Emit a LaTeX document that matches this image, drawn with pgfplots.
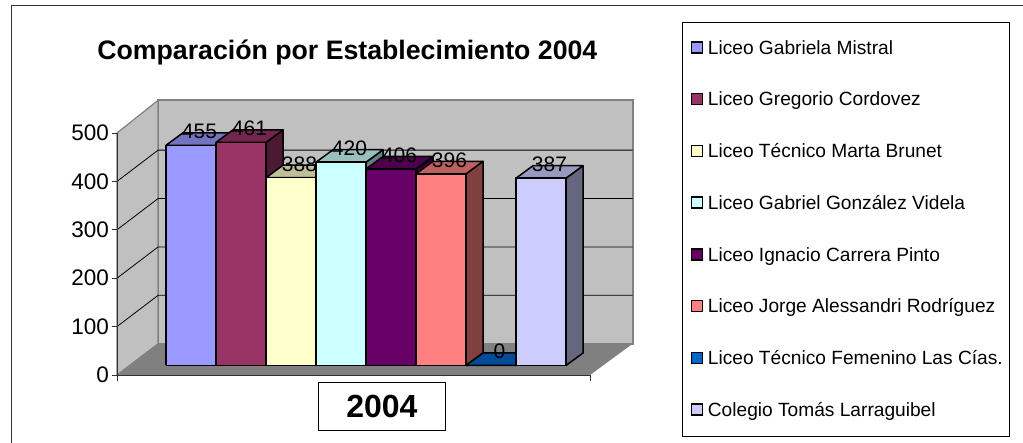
\documentclass[border=0pt]{standalone}
\usepackage{pgfplots}
\pgfplotsset{compat=1.18}
\usepackage{fontspec}
\setmainfont{Liberation Sans}
\definecolor{wallgray}{RGB}{192,192,192}
\definecolor{floorgray}{RGB}{128,128,128}
\definecolor{axisdark}{RGB}{50,50,50}
\definecolor{c1}{HTML}{9999FF}
\definecolor{c2}{HTML}{993366}
\definecolor{c3}{HTML}{FFFFCC}
\definecolor{c4}{HTML}{CCFFFF}
\definecolor{c5}{HTML}{660066}
\definecolor{c6}{HTML}{FF8080}
\definecolor{c7}{HTML}{0066CC}
\definecolor{c8}{HTML}{CCCCFF}
\pgfplotsset{/pgf/number format/assume math mode=true}
% one 3D column: left x, right x, value, colour
\newcommand{\column}[4]{
  \addplot3[draw=black, line width=1.5pt, line join=round, fill=#4!50!black] coordinates {(#2,0,0)(#2,1,0)(#2,1,#3)(#2,0,#3)(#2,0,0)};
  \addplot3[draw=black, line width=1.5pt, line join=round, fill=#4!75!black] coordinates {(#1,0,#3)(#2,0,#3)(#2,1,#3)(#1,1,#3)(#1,0,#3)};
  \addplot3[draw=black, line width=1.5pt, line join=round, fill=#4] coordinates {(#1,0,0)(#2,0,0)(#2,0,#3)(#1,0,#3)(#1,0,0)};
}
\begin{document}
\begin{tikzpicture}
\useasboundingbox (0pt,0pt) rectangle (1023pt,442pt);
\fill[white] (0pt,0pt) rectangle (1023pt,442pt);
\draw[black!80, line width=1pt] (11.5pt,-2pt) -- (11.5pt,436pt) -- (1025pt,436pt);

% walls, floor and bars, 1 x unit = one column, depth unit = column depth
\begin{axis}[
  anchor=origin, at={(166pt,76.5pt)},
  x={(50pt,0pt)}, y={(17pt,12.5pt)}, z={(0pt,0.484pt)},
  xmin=-1, xmax=9, ymin=-1, ymax=2, zmin=0, zmax=500,
  hide axis, clip=false,
]
\addplot3[draw=floorgray, line width=2pt, fill=wallgray] coordinates {(-0.75,1.74,0)(8.74,1.74,0)(8.74,1.74,503)(-0.75,1.74,503)(-0.75,1.74,0)};
\addplot3[draw=floorgray, line width=1.2pt, fill=wallgray] coordinates {(-0.722,-0.76,0)(-0.75,1.74,0)(-0.75,1.74,503)(-0.722,-0.76,500)(-0.722,-0.76,0)};
\addplot3[draw=none, fill=floorgray] coordinates {(-0.722,-0.76,0)(8.74,-0.76,0)(8.74,1.74,0)(-0.75,1.74,0)(-0.722,-0.76,0)};
% gridlines
\addplot3[black, line width=0.8pt] coordinates {(-0.722,-0.76,100)(-0.75,1.74,100)(8.74,1.74,100)};
\addplot3[black, line width=0.8pt] coordinates {(-0.722,-0.76,200)(-0.75,1.74,200)(8.74,1.74,200)};
\addplot3[black, line width=0.8pt] coordinates {(-0.722,-0.76,300)(-0.75,1.74,300)(8.74,1.74,300)};
\addplot3[black, line width=0.8pt] coordinates {(-0.722,-0.76,400)(-0.75,1.74,400)(8.74,1.74,400)};
\column{0}{1}{455}{c1}
\column{1}{2}{461}{c2}
\column{2}{3}{388}{c3}
\column{3}{4}{420}{c4}
\column{4}{5}{406}{c5}
\column{5}{6}{396}{c6}
\column{6}{7}{0}{c7}
\column{7}{8}{387}{c8}
% data labels on top of everything
\addplot3[only marks, mark size=0pt, point meta=z, nodes near coords,
  nodes near coords style={anchor=center, yshift=7.5pt, font=\fontsize{21}{21}\selectfont, black}]
  coordinates {(0.5,0.5,455)(1.5,0.5,461)(2.5,0.5,388)(3.5,0.5,420)(4.5,0.5,406)(5.5,0.5,396)(6.5,0.5,0)(7.5,0.5,387)};
\end{axis}

% front axis lines, ticks, title, axis label and legend
\begin{axis}[
  anchor=south west, at={(117pt,67pt)},
  scale only axis, width=473pt, height=242pt,
  xmin=0, xmax=1, ymin=0, ymax=500,
  axis x line=bottom, axis y line=left,
  axis line style={-, draw=axisdark, line width=1pt},
  tick style={draw=axisdark, line width=1pt},
  tick align=outside, major tick length=5.5pt,
  xtick={0,1}, xticklabels={,},
  ytick={0,100,200,300,400,500},
  yticklabel style={font=\fontsize{22.5}{22.5}\selectfont, inner sep=2.5pt, text=black},
  xlabel={2004},
  xlabel style={at={(axis description cs:0.56,-0.1295)}, anchor=center, draw=black, fill=white, line width=1.3pt,
    font=\bfseries\fontsize{32}{32}\selectfont, minimum width=127pt, minimum height=48pt},
  title={Comparación por Establecimiento 2004},
  title style={at={(axis description cs:0.487,1.31)}, anchor=center, font=\bfseries\fontsize{26.7}{26.7}\selectfont},
  clip=false,
  legend cell align=left,
  legend image code/.code={\path[draw=none, fill=none] (0pt,0pt) -- (18.5pt,0pt);\draw[#1, draw=black, line width=1.5pt] (4pt,-5pt) rectangle (15pt,6pt);},
  legend style={at={(axis description cs:1.1945,1.4587)}, anchor=north west, draw=black, line width=0.8pt, fill=white,
    font=\fontsize{19.15}{19.15}\selectfont, inner xsep=5pt, inner ysep=16pt,
    row sep=32.2pt, legend columns=1},
]
\addlegendimage{fill=c1}\addlegendentry{Liceo Gabriela Mistral}
\addlegendimage{fill=c2}\addlegendentry{Liceo Gregorio Cordovez}
\addlegendimage{fill=c3}\addlegendentry{Liceo Técnico Marta Brunet}
\addlegendimage{fill=c4}\addlegendentry{Liceo Gabriel González Videla}
\addlegendimage{fill=c5}\addlegendentry{Liceo Ignacio Carrera Pinto}
\addlegendimage{fill=c6}\addlegendentry{Liceo Jorge Alessandri Rodríguez}
\addlegendimage{fill=c7}\addlegendentry{Liceo Técnico Femenino Las Cías.}
\addlegendimage{fill=c8}\addlegendentry{Colegio Tomás Larraguibel}
\end{axis}
\end{tikzpicture}
\end{document}
